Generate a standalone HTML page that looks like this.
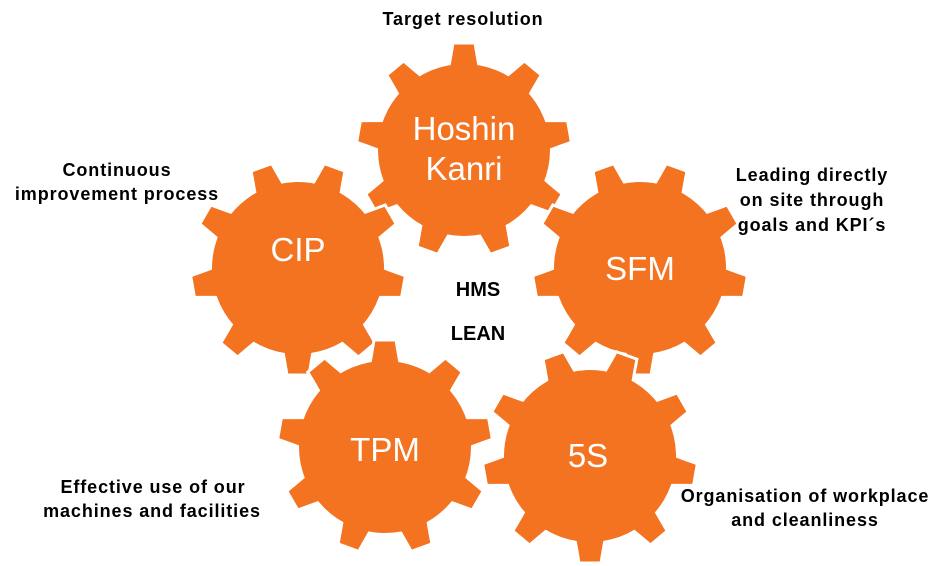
<!DOCTYPE html>
<html><head><meta charset="utf-8"><style>
html,body{margin:0;padding:0;background:#fff;}
svg{display:block;}
text{font-family:"Liberation Sans",Arial,sans-serif;}
.l{font-weight:bold;font-size:18px;fill:#000;letter-spacing:0.9px;}
.g{fill:#fff;font-size:33px;}
</style></head><body>
<svg width="950" height="566" viewBox="0 0 950 566">
<defs>
<g id="gear">
<g fill="#f37321" stroke="#fff" stroke-width="3">
<polygon id="t" points="-15,-82 -11,-107 11,-107 15,-82"/>
<use href="#t" transform="rotate(40)"/><use href="#t" transform="rotate(80)"/>
<use href="#t" transform="rotate(120)"/><use href="#t" transform="rotate(160)"/>
<use href="#t" transform="rotate(200)"/><use href="#t" transform="rotate(240)"/>
<use href="#t" transform="rotate(280)"/><use href="#t" transform="rotate(320)"/>
<circle r="87"/>
</g>
<circle r="86" fill="#f37321"/>
<g fill="#f37321">
<polygon id="t2" points="-13.5,-84 -9.5,-105.5 9.5,-105.5 13.5,-84"/>
<use href="#t2" transform="rotate(40)"/><use href="#t2" transform="rotate(80)"/>
<use href="#t2" transform="rotate(120)"/><use href="#t2" transform="rotate(160)"/>
<use href="#t2" transform="rotate(200)"/><use href="#t2" transform="rotate(240)"/>
<use href="#t2" transform="rotate(280)"/><use href="#t2" transform="rotate(320)"/>
</g>
</g>
</defs>
<use href="#gear" transform="translate(464,150)"/>
<use href="#gear" transform="translate(298,268) rotate(20)"/>
<use href="#gear" transform="translate(640,268) rotate(20)"/>
<use href="#gear" transform="translate(385,447)"/>
<use href="#gear" transform="translate(590,456) rotate(20)"/>

<text class="g" x="464" y="140" text-anchor="middle">Hoshin</text>
<text class="g" x="464" y="180" text-anchor="middle">Kanri</text>
<text class="g" x="298" y="261" text-anchor="middle">CIP</text>
<text class="g" x="640" y="280" text-anchor="middle">SFM</text>
<text class="g" x="385" y="461" text-anchor="middle">TPM</text>
<text class="g" x="588" y="467" text-anchor="middle">5S</text>

<text class="l" x="478" y="296" text-anchor="middle" style="font-size:20px;letter-spacing:0">HMS</text>
<text class="l" x="478" y="340" text-anchor="middle" style="font-size:20px;letter-spacing:0">LEAN</text>

<text class="l" x="463" y="25" text-anchor="middle">Target resolution</text>
<text class="l" x="117" y="176" text-anchor="middle">Continuous</text>
<text class="l" x="117" y="200" text-anchor="middle">improvement process</text>
<text class="l" x="812" y="181" text-anchor="middle">Leading directly</text>
<text class="l" x="812" y="206" text-anchor="middle">on site through</text>
<text class="l" x="812" y="231" text-anchor="middle">goals and KPI´s</text>
<text class="l" x="153" y="493" text-anchor="middle">Effective use of our</text>
<text class="l" x="152" y="517" text-anchor="middle">machines and facilities</text>
<text class="l" x="805" y="502" text-anchor="middle">Organisation of workplace</text>
<text class="l" x="805" y="526" text-anchor="middle">and cleanliness</text>
</svg>
</body></html>
